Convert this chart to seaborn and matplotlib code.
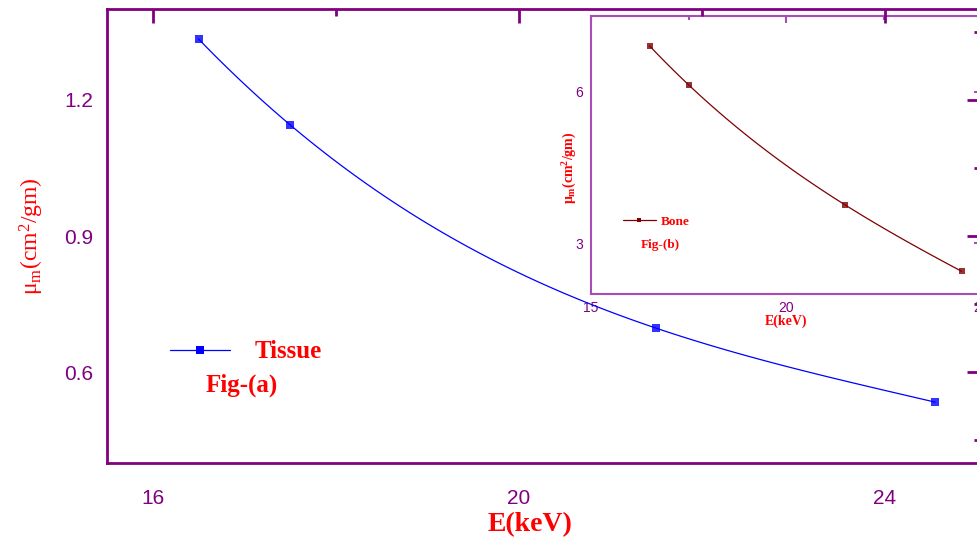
import numpy as np
import pandas as pd
import matplotlib
matplotlib.use('Agg')
import matplotlib.pyplot as plt
from matplotlib.lines import Line2D
from matplotlib.ticker import MultipleLocator, FormatStrFormatter
import seaborn as sns

# data
energy_tissue = [16.5, 17.5, 21.5, 24.55]
mu_tissue = [1.334, 1.145, 0.697, 0.534]
energy_bone = [16.5, 17.5, 21.5, 24.5]
mu_bone = [6.91, 6.14, 3.77, 2.45]

PURPLE = '#800080'
INSET_PURPLE = '#a84cb8'
RED = '#ff0000'
SERIF = 'Liberation Serif'
SANS = 'Liberation Sans'

sns.set_theme(style='white')
plt.rcParams['font.family'] = [SANS, 'DejaVu Sans']
plt.rcParams['mathtext.fontset'] = 'custom'
plt.rcParams['mathtext.rm'] = SERIF
plt.rcParams['mathtext.it'] = SERIF + ':italic'
plt.rcParams['mathtext.bf'] = SERIF + ':bold'

tissue = pd.DataFrame({'E': energy_tissue, 'mu': mu_tissue})
bone = pd.DataFrame({'E': energy_bone, 'mu': mu_bone})

fig = plt.figure(figsize=(9.77, 5.38), dpi=100)


def style_axes(ax, color, lw, major, minor, size, pad):
    for sp in ax.spines.values():
        sp.set_color(color)
        sp.set_linewidth(lw)
    ax.tick_params(which='both', direction='in', top=True, right=True,
                   color=color, width=lw, labelcolor=PURPLE,
                   labelsize=size, pad=pad)
    ax.tick_params(which='major', length=major)
    ax.tick_params(which='minor', length=minor)


# main plot (tissue) - drawn above the inset, transparent background
ax = fig.add_axes([107 / 977, 75 / 538, 874 / 977, 454 / 538])
ax.set_zorder(2)
ax.patch.set_alpha(0)
sns.regplot(data=tissue, x='E', y='mu', order=3, ci=None, marker='s', ax=ax,
            color='#0000ff', scatter_kws={'s': 34, 'linewidths': 0, 'zorder': 3},
            line_kws={'linewidth': 0.9})
ax.set_xlim(15.5, 25.05)
ax.set_ylim(0.4, 1.4)
ax.xaxis.set_major_locator(MultipleLocator(4))
ax.xaxis.set_minor_locator(MultipleLocator(2))
ax.yaxis.set_major_locator(MultipleLocator(0.3))
ax.yaxis.set_minor_locator(MultipleLocator(0.15))
ax.yaxis.set_major_formatter(FormatStrFormatter('%.1f'))
style_axes(ax, PURPLE, 2, 10, 5, 15, 10)
ax.tick_params(axis='x', pad=19)

ax.set_xlabel('E(keV)', fontsize=20, fontweight='bold', color=RED, family=SERIF)
ax.xaxis.set_label_coords(0.4845, -0.108)
ax.set_ylabel(r'μ$_\mathrm{m}$(cm$^\mathrm{2}$/gm)', fontsize=17, color=RED, family=SERIF)
ax.yaxis.set_label_coords(-0.07, 0.5)

h = Line2D([], [], color='#0000ff', lw=0.9, marker='s', markersize=6, markeredgewidth=0)
leg = ax.legend([h], ['Tissue'], loc='center left', bbox_to_anchor=(0.072, 0.2445),
                frameon=False, handlelength=2.4, handletextpad=1.0,
                borderpad=0, borderaxespad=0,
                prop={'family': SERIF, 'weight': 'bold', 'size': 18})
for t in leg.get_texts():
    t.set_color(RED)
ax.text((242 - 107) / 874, (463 - 385) / 454, 'Fig-(a)', transform=ax.transAxes,
        ha='center', va='center', color=RED, fontsize=18, fontweight='bold', family=SERIF)

# inset (bone)
ins = fig.add_axes([591 / 977, 244 / 538, 390 / 977, 278 / 538])
ins.set_zorder(1)
ins.set_facecolor('white')
sns.regplot(data=bone, x='E', y='mu', order=3, ci=None, marker='s', ax=ins,
            color='#800000', scatter_kws={'s': 14, 'linewidths': 0, 'zorder': 3},
            line_kws={'linewidth': 0.9})
ins.set_xlim(15, 25)
ins.set_ylim(2, 7.5)
ins.xaxis.set_major_locator(MultipleLocator(5))
ins.xaxis.set_minor_locator(MultipleLocator(2.5))
ins.yaxis.set_major_locator(MultipleLocator(3))
ins.yaxis.set_minor_locator(MultipleLocator(1.5))
style_axes(ins, INSET_PURPLE, 1.5, 5, 3, 10, 6)
ins.tick_params(axis='x', pad=5)

ins.set_xlabel('E(keV)', fontsize=10, fontweight='bold', color=RED, family=SERIF)
ins.xaxis.set_label_coords(0.5, -0.075)
ins.set_ylabel(r'$\mathbf{\mu_m}$(cm$^\mathbf{2}$/gm)', fontsize=10,
               fontweight='bold', color=RED, family=SERIF)
ins.yaxis.set_label_coords(-0.03, 0.453)

hb = Line2D([], [], color='#800000', lw=0.9, marker='s', markersize=3.5, markeredgewidth=0)
legb = ins.legend([hb], ['Bone'], loc='center left', bbox_to_anchor=(0.082, 0.259),
                  frameon=False, handlelength=2.5, handletextpad=0.35,
                  borderpad=0, borderaxespad=0,
                  prop={'family': SERIF, 'weight': 'bold', 'size': 9.5})
for t in legb.get_texts():
    t.set_color(RED)
ins.text((660 - 591) / 390, (294 - 245) / 278, 'Fig-(b)', transform=ins.transAxes,
         ha='center', va='center', color=RED, fontsize=9.5, fontweight='bold', family=SERIF)

fig.savefig('out.png', dpi=100)
